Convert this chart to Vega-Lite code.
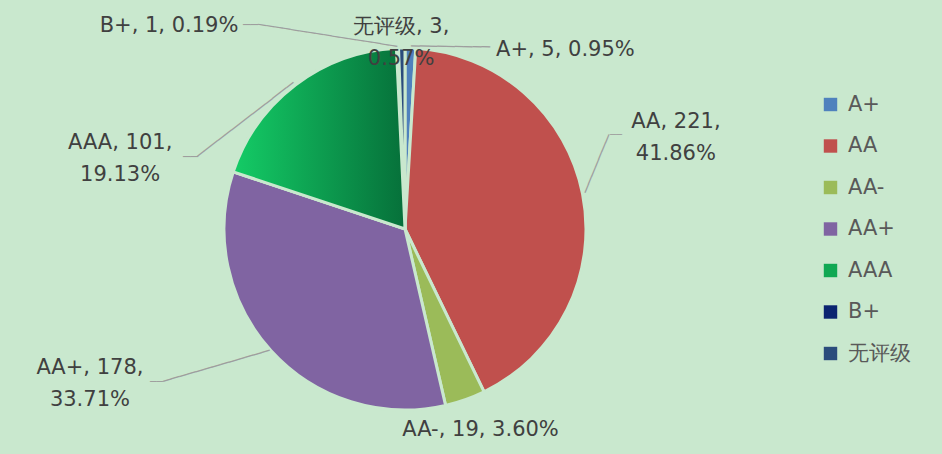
{
  "$schema": "https://vega.github.io/schema/vega-lite/v6.json",
  "width": 810,
  "height": 454,
  "padding": {"left": 0, "top": 2, "right": 132, "bottom": 0},
  "autosize": {"type": "none"},
  "background": "#C9E8CE",
  "view": {"stroke": null},
  "config": {"font": "DejaVu Sans"},
  "data": {
    "values": [
      {"rating": "A+", "count": 5, "pct": 0.95, "order": 1},
      {"rating": "AA", "count": 221, "pct": 41.86, "order": 2},
      {"rating": "AA-", "count": 19, "pct": 3.60, "order": 3},
      {"rating": "AA+", "count": 178, "pct": 33.71, "order": 4},
      {"rating": "AAA", "count": 101, "pct": 19.13, "order": 5},
      {"rating": "B+", "count": 1, "pct": 0.19, "order": 6},
      {"rating": "无评级", "count": 3, "pct": 0.57, "order": 7}
    ]
  },
  "transform": [
    {"calculate": "datum.rating + ', ' + datum.count + ', ' + format(datum.pct, '.2f') + '%'", "as": "label1"},
    {"calculate": "datum.rating + ', ' + datum.count + ',\\n' + format(datum.pct, '.2f') + '%'", "as": "label2"}
  ],
  "encoding": {
    "theta": {"field": "count", "type": "quantitative", "stack": true},
    "order": {"field": "order", "type": "quantitative"}
  },
  "layer": [
    {
      "mark": {"type": "arc", "outerRadius": 181, "stroke": "#C9E8CE", "strokeWidth": 3},
      "encoding": {
        "color": {
          "field": "rating",
          "type": "nominal",
          "sort": ["A+", "AA", "AA-", "AA+", "AAA", "B+", "无评级"],
          "scale": {
            "domain": ["A+", "AA", "AA-", "AA+", "AAA", "B+", "无评级"],
            "range": ["#4F81BD", "#C0504D", "#9BBB59", "#8064A2", "#10A853", "#0A2470", "#2B4C7C"]
          },
          "legend": {
            "orient": "none",
            "legendX": 820,
            "legendY": 92,
            "title": null,
            "symbolType": "square",
            "symbolSize": 180,
            "symbolStrokeWidth": 0,
            "labelFontSize": 21,
            "labelColor": "#595959",
            "labelFont": "DejaVu Sans",
            "rowPadding": 19.5,
            "labelOffset": 7,
            "padding": 0
          }
        }
      }
    },
    {
      "mark": {
        "type": "arc",
        "outerRadius": 181,
        "stroke": "#C9E8CE",
        "strokeWidth": 3,
        "fill": {"gradient": "linear", "x1": 0, "y1": 0, "x2": 1, "y2": 0, "stops": [{"offset": 0, "color": "#14CC66"}, {"offset": 1, "color": "#06703A"}]}
      },
      "encoding": {
        "detail": {"field": "rating"},
        "opacity": {"condition": {"test": "datum.rating === 'AAA'", "value": 1}, "value": 0}
      }
    },
    {
      "mark": {"type": "text", "radius": 215, "dx": -145.6, "dy": 10.8, "angle": 0, "font": "DejaVu Sans Mono", "fontWeight": "bold", "fontSize": 12.5, "color": "#9E9E9E"},
      "encoding": {"detail": {"field": "rating"}, "text": {"condition": {"test": "datum.rating === 'B+'", "value": "──"}, "value": ""}}
    },
    {
      "mark": {"type": "text", "radius": 215, "dx": -64.3, "dy": 32.3, "angle": 9, "font": "DejaVu Sans Mono", "fontWeight": "bold", "fontSize": 13.78, "color": "#9E9E9E"},
      "encoding": {"detail": {"field": "rating"}, "text": {"condition": {"test": "datum.rating === 'B+'", "value": "─────────────────"}, "value": ""}}
    },
    {
      "mark": {"type": "text", "radius": 215, "dx": 39.5, "dy": 32.9, "angle": 0.7, "font": "DejaVu Sans Mono", "fontWeight": "bold", "fontSize": 14.58, "color": "#9E9E9E"},
      "encoding": {"detail": {"field": "rating"}, "text": {"condition": {"test": "datum.rating === 'A+'", "value": "─────────"}, "value": ""}}
    },
    {
      "mark": {"type": "text", "radius": 215, "dx": 0.1, "dy": -52.1, "angle": 0, "font": "DejaVu Sans Mono", "fontWeight": "bold", "fontSize": 10, "color": "#9E9E9E"},
      "encoding": {"detail": {"field": "rating"}, "text": {"condition": {"test": "datum.rating === 'AA'", "value": "──"}, "value": ""}}
    },
    {
      "mark": {"type": "text", "radius": 215, "dx": 14.5, "dy": -25.4, "angle": 292.5, "font": "DejaVu Sans Mono", "fontWeight": "bold", "fontSize": 14.9, "color": "#9E9E9E"},
      "encoding": {"detail": {"field": "rating"}, "text": {"condition": {"test": "datum.rating === 'AA'", "value": "───────"}, "value": ""}}
    },
    {
      "mark": {"type": "text", "radius": 215, "dx": -61.2, "dy": 31.6, "angle": 322.4, "font": "DejaVu Sans Mono", "fontWeight": "bold", "fontSize": 14.36, "color": "#9E9E9E"},
      "encoding": {"detail": {"field": "rating"}, "text": {"condition": {"test": "datum.rating === 'AAA'", "value": "──────────────"}, "value": ""}}
    },
    {
      "mark": {"type": "text", "radius": 215, "dx": -84.7, "dy": 99.4, "angle": 0, "font": "DejaVu Sans Mono", "fontWeight": "bold", "fontSize": 12.5, "color": "#9E9E9E"},
      "encoding": {"detail": {"field": "rating"}, "text": {"condition": {"test": "datum.rating === 'AAA'", "value": "──"}, "value": ""}}
    },
    {
      "mark": {"type": "text", "radius": 215, "dx": -26.2, "dy": -14.9, "angle": 343.8, "font": "DejaVu Sans Mono", "fontWeight": "bold", "fontSize": 14.2, "color": "#9E9E9E"},
      "encoding": {"detail": {"field": "rating"}, "text": {"condition": {"test": "datum.rating === 'AA+'", "value": "─────────────"}, "value": ""}}
    },
    {
      "mark": {"type": "text", "radius": 215, "dx": -89.3, "dy": 8.5, "angle": 0, "font": "DejaVu Sans Mono", "fontWeight": "bold", "fontSize": 10.8, "color": "#9E9E9E"},
      "encoding": {"detail": {"field": "rating"}, "text": {"condition": {"test": "datum.rating === 'AA+'", "value": "──"}, "value": ""}}
    },
    {
      "mark": {"type": "text", "radius": 215, "dx": 154, "dy": 36, "fontSize": 21, "lineBreak": "\n", "lineHeight": 32},
      "encoding": {"detail": {"field": "rating"}, "color": {"value": "#404040"}, "text": {"condition": {"test": "datum.rating === 'A+'", "field": "label1"}, "value": ""}}
    },
    {
      "mark": {"type": "text", "radius": 215, "dx": 60, "dy": -65, "fontSize": 21, "lineBreak": "\n", "lineHeight": 32},
      "encoding": {"detail": {"field": "rating"}, "color": {"value": "#404040"}, "text": {"condition": {"test": "datum.rating === 'AA'", "field": "label2"}, "value": ""}}
    },
    {
      "mark": {"type": "text", "radius": 215, "dx": 4, "dy": -2, "fontSize": 21, "lineBreak": "\n", "lineHeight": 32},
      "encoding": {"detail": {"field": "rating"}, "color": {"value": "#404040"}, "text": {"condition": {"test": "datum.rating === 'AA-'", "field": "label1"}, "value": ""}}
    },
    {
      "mark": {"type": "text", "radius": 215, "dx": -156, "dy": -5.5, "fontSize": 21, "lineBreak": "\n", "lineHeight": 32},
      "encoding": {"detail": {"field": "rating"}, "color": {"value": "#404040"}, "text": {"condition": {"test": "datum.rating === 'AA+'", "field": "label2"}, "value": ""}}
    },
    {
      "mark": {"type": "text", "radius": 215, "dx": -155, "dy": 85.4, "fontSize": 21, "lineBreak": "\n", "lineHeight": 32},
      "encoding": {"detail": {"field": "rating"}, "color": {"value": "#404040"}, "text": {"condition": {"test": "datum.rating === 'AAA'", "field": "label2"}, "value": ""}}
    },
    {
      "mark": {"type": "text", "radius": 215, "dx": -227, "dy": 12, "fontSize": 21, "lineBreak": "\n", "lineHeight": 32},
      "encoding": {"detail": {"field": "rating"}, "color": {"value": "#404040"}, "text": {"condition": {"test": "datum.rating === 'B+'", "field": "label1"}, "value": ""}}
    },
    {
      "mark": {"type": "text", "radius": 215, "dx": 0, "dy": 13, "fontSize": 21, "lineBreak": "\n", "lineHeight": 32},
      "encoding": {"detail": {"field": "rating"}, "color": {"value": "#404040"}, "text": {"condition": {"test": "datum.rating === '无评级'", "field": "label2"}, "value": ""}}
    }
  ]
}
